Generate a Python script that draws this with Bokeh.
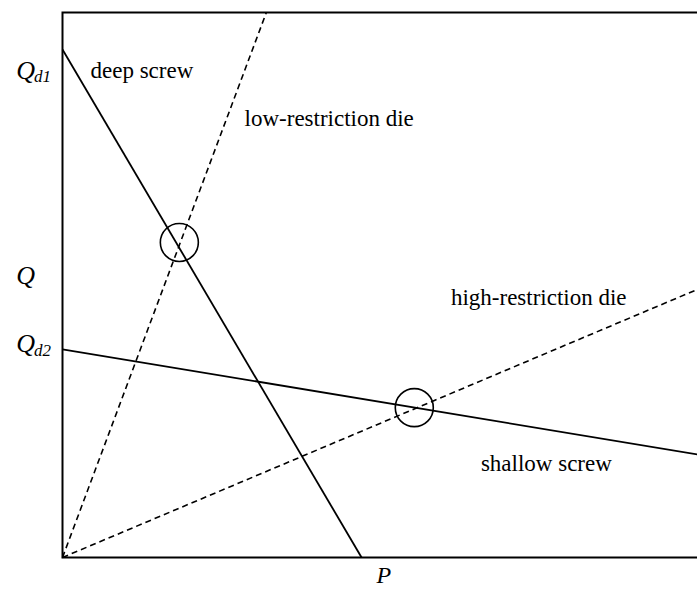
from bokeh.plotting import figure
from bokeh.models import Range1d, Label
from bokeh.embed import file_html
from bokeh.resources import INLINE

# ---- data (P on x, Q on y, both normalised to the plotted box 0..1) ----
deep_screw_P = [0.0, 0.471]
deep_screw_Q = [0.932, 0.0]
shallow_screw_P = [0.0, 1.0]
shallow_screw_Q = [0.382, 0.189]
low_die_P = [0.0, 0.321]
low_die_Q = [0.0, 1.0]
high_die_P = [0.0, 1.0]
high_die_Q = [0.0, 0.492]
operating_P = [0.184, 0.554]
operating_Q = [0.578, 0.275]

box_P = [1.0, 0.0, 0.0, 1.0]
box_Q = [1.0, 1.0, 0.0, 0.0]

curve_names = ["deep screw", "low-restriction die", "high-restriction die", "shallow screw"]
curve_label_P = [0.125, 0.420, 0.750, 0.762]
curve_label_Q = [0.894, 0.806, 0.477, 0.172]

axis_names = ["Q", "Q", "Q"]
axis_subs = ["d1", "", "d2"]
axis_label_Q = [0.894, 0.517, 0.392]

FONT = "Liberation Serif"

p = figure(width=697, height=590,
           x_range=Range1d(-62 / 635, 1.0), y_range=Range1d(-33 / 545, 1 + 12 / 545),
           toolbar_location=None, output_backend="svg",
           x_axis_location=None, y_axis_location=None,
           min_border=0)
p.grid.visible = False
p.outline_line_color = None
p.background_fill_color = "white"
p.border_fill_color = "white"

p.line(box_P, box_Q, line_color="black", line_width=2, line_join="miter")
p.line(deep_screw_P, deep_screw_Q, line_color="black", line_width=1.8)
p.line(shallow_screw_P, shallow_screw_Q, line_color="black", line_width=1.8)
p.line(low_die_P, low_die_Q, line_color="black", line_width=1.6, line_dash="6 4")
p.line(high_die_P, high_die_Q, line_color="black", line_width=1.6, line_dash="6 4")
p.scatter(operating_P, operating_Q, size=38, fill_color=None, line_color="black", line_width=1.6)

for name, x, y in zip(curve_names, curve_label_P, curve_label_Q):
    p.add_layout(Label(x=x, y=y, text=name, text_font=FONT, text_font_size="23px",
                       text_baseline="middle", text_align="center", text_color="black"))

for name, sub, y in zip(axis_names, axis_subs, axis_label_Q):
    p.add_layout(Label(x=-0.073, y=y, text=name, text_font=FONT, text_font_size="26px",
                       text_font_style="italic", text_baseline="middle", text_align="left",
                       text_color="black"))
    if sub:
        p.add_layout(Label(x=-0.045, y=y - 0.012, text=sub, text_font=FONT, text_font_size="17px",
                           text_font_style="italic", text_baseline="middle", text_align="left",
                           text_color="black"))

p.add_layout(Label(x=0.506, y=-0.033, text="P", text_font=FONT, text_font_size="24px",
                   text_font_style="italic", text_baseline="middle", text_align="center",
                   text_color="black"))

open("out.html", "w").write(file_html(p, INLINE))
